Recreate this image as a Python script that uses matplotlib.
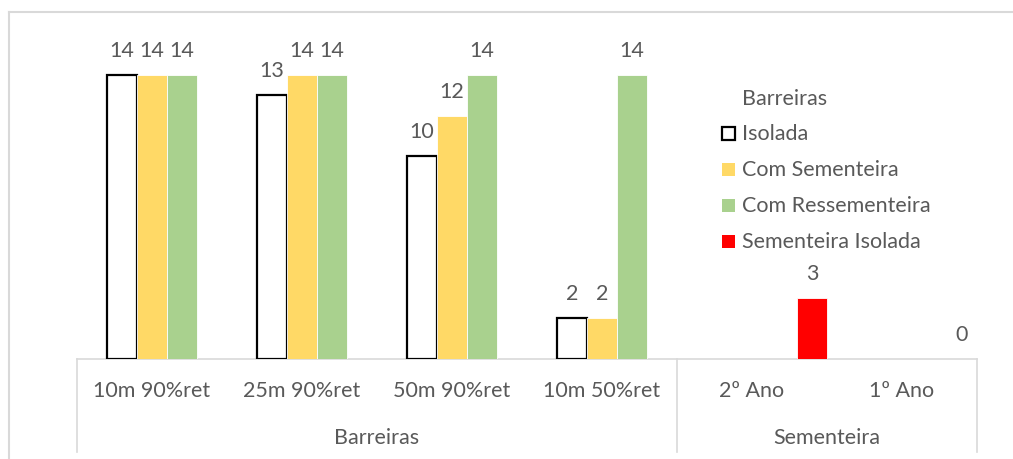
import numpy as np
import matplotlib
matplotlib.use("Agg")
import matplotlib.pyplot as plt
from matplotlib.lines import Line2D
from matplotlib.patches import Rectangle
from matplotlib.transforms import blended_transform_factory

plt.rcParams['font.family'] = ['Lato', 'DejaVu Sans']

# --- data -------------------------------------------------------------
categories = ["10m 90%ret", "25m 90%ret", "50m 90%ret", "10m 50%ret", "2º Ano", "1º Ano"]
groups = ["Barreiras", "Sementeira"]
group_spans = [(0, 4), (4, 6)]          # category index ranges of each group

series_names = ["Isolada", "Com Sementeira", "Com Ressementeira", "Sementeira Isolada"]
isolada = [14, 13, 10, 2, np.nan, np.nan]
com_sementeira = [14, 14, 12, 2, np.nan, np.nan]
com_ressementeira = [14, 14, 14, 14, np.nan, np.nan]
sementeira_isolada = [np.nan, np.nan, np.nan, np.nan, 3, 0]
legend_title = "Barreiras"

# --- style ------------------------------------------------------------
W, H, DPI = 1013, 460, 100
text_col = "#595959"
grid_col = "#D9D9D9"
fs = 15.5
styles = [
    dict(facecolor="white", edgecolor="black", linewidth=1.6),
    dict(facecolor="#FFD966", edgecolor="white", linewidth=0.6),
    dict(facecolor="#A9D18E", edgecolor="white", linewidth=0.6),
    dict(facecolor="#FF0000", edgecolor="white", linewidth=0.6),
]

fig = plt.figure(figsize=(W / DPI, H / DPI), dpi=DPI)
ax_left, ax_right, ax_base = 77, 977, 360
unit = 284 / 14.0
ymax = 16
ax = fig.add_axes([ax_left / W, (H - ax_base) / H,
                   (ax_right - ax_left) / W, ymax * unit / H])
ax.set_xlim(0, len(categories))
ax.set_ylim(0, ymax)
ax.axis("off")

x = np.arange(len(categories))
bar_w = 0.2
all_series = [isolada, com_sementeira, com_ressementeira, sementeira_isolada]
for k, (vals, st) in enumerate(zip(all_series, styles)):
    vals = np.asarray(vals, dtype=float)
    pos = x + 0.2 + k * bar_w
    mask = ~np.isnan(vals)
    ax.bar(pos[mask], vals[mask], width=bar_w, align="edge", **st, zorder=3)
    for p, v in zip(pos[mask], vals[mask]):
        ax.annotate(f"{int(v)}", (p + bar_w / 2, v), xytext=(0, 18),
                    textcoords="offset points", ha="center", va="center",
                    fontsize=fs, color=text_col)

# baseline
ax.add_line(Line2D([0, len(categories)], [0, 0], color=grid_col, lw=1.2,
                   zorder=2, clip_on=False))

# multi-level category axis
tr = blended_transform_factory(ax.transData, fig.transFigure)
y_cat = (H - 391) / H
y_grp = (H - 438) / H
y_bot = (H - 453) / H
y_top = (H - ax_base) / H
for i, c in enumerate(categories):
    fig.text(i + 0.5, y_cat, c, transform=tr, ha="center", va="center",
             fontsize=fs, color=text_col)
for g, (a, b) in zip(groups, group_spans):
    fig.text((a + b) / 2, y_grp, g, transform=tr, ha="center", va="center",
             fontsize=fs, color=text_col)
for xv in [0, 4, 6]:
    fig.add_artist(Line2D([xv, xv], [y_top, y_bot], transform=tr,
                          color=grid_col, lw=1.2))

# legend
leg_x, leg_text_x = 722, 742
fig.text(leg_text_x / W, (H - 99) / H, legend_title, ha="left", va="center",
         fontsize=fs, color=text_col)
for k, (name, st) in enumerate(zip(series_names, styles)):
    yc = 134 + 36 * k
    sq = 13
    st2 = dict(st)
    if k == 0:
        st2["linewidth"] = 1.6
    else:
        st2["linewidth"] = 0
    fig.add_artist(Rectangle((leg_x / W, (H - yc - sq / 2) / H), sq / W, sq / H,
                             transform=fig.transFigure, **st2))
    fig.text(leg_text_x / W, (H - yc) / H, name, ha="left", va="center",
             fontsize=fs, color=text_col)

# chart frame
fig.add_artist(Line2D([9 / W, 1], [(H - 13) / H, (H - 13) / H],
                      transform=fig.transFigure, color=grid_col, lw=1.5))
fig.add_artist(Line2D([9 / W, 9 / W], [(H - 13) / H, 0],
                      transform=fig.transFigure, color=grid_col, lw=1.5))

fig.savefig("out.png", dpi=DPI)
